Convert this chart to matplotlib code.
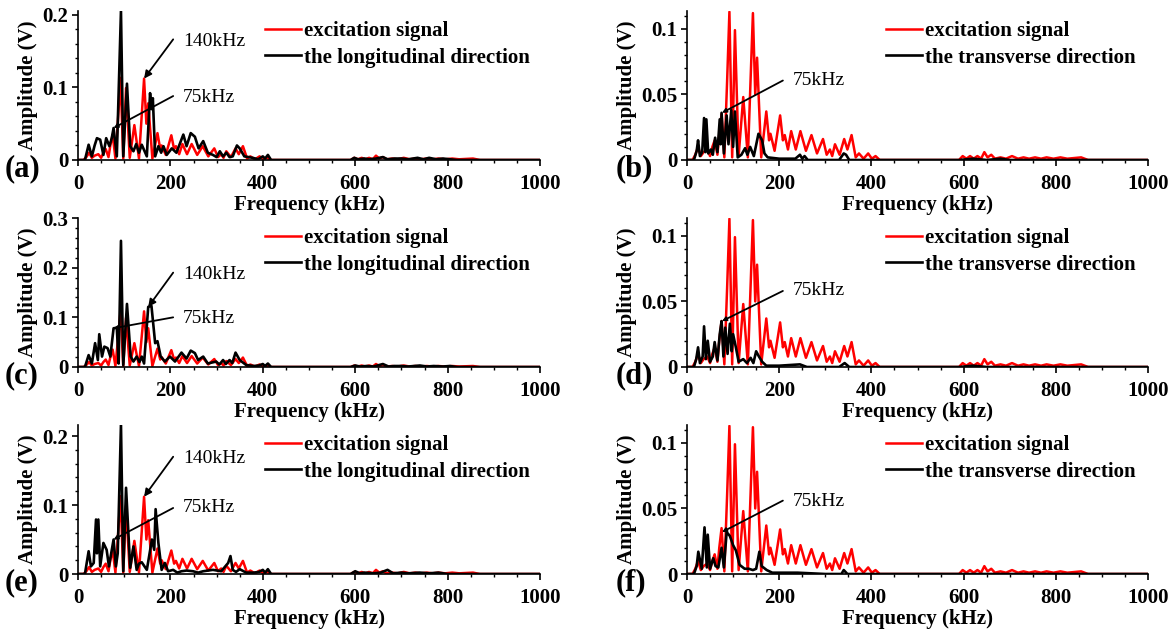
import matplotlib
matplotlib.use("Agg")
import matplotlib.pyplot as plt
from matplotlib.ticker import MultipleLocator, FuncFormatter

plt.rcParams['font.family'] = ['Liberation Serif', 'DejaVu Serif']
plt.rcParams['font.weight'] = 'bold'

# excitation signal spectrum (same in every panel), (kHz, V)
excitation = [(0, 0), (12, 0), (18, 0.004), (24, 0.010), (30, 0.003), (36, 0.006), (44, 0.008),
              (50, 0.003), (55, 0.010), (60, 0.015), (66, 0.004), (70, 0.020), (75, 0.035),
              (81, 0.002), (87, 0.06), (92, 0.113), (98, 0.002), (104, 0.099), (112, 0.003),
              (122, 0.048), (132, 0.002), (143, 0.112), (148, 0.05), (152, 0.078), (161, 0.002),
              (172, 0.037), (178, 0.015), (181, 0.020), (190, 0.007), (202, 0.034), (208, 0.015),
              (212, 0.019), (219, 0.008), (226, 0.022), (236, 0.008), (246, 0.022), (258, 0.007),
              (270, 0.019), (282, 0.005), (295, 0.016), (303, 0.004), (310, 0.008), (315, 0.003),
              (321, 0.012), (331, 0.004), (341, 0.016), (348, 0.008), (357, 0.019), (366, 0.002),
              (373, 0.005), (383, 0.001), (393, 0.005), (401, 0.001), (409, 0.003), (418, 0),
              (590, 0), (598, 0.003), (606, 0.001), (614, 0.003), (622, 0.001), (630, 0.003),
              (638, 0.001), (645, 0.006), (652, 0.002), (660, 0.004), (668, 0.001), (680, 0.002),
              (692, 0.001), (705, 0.003), (718, 0.001), (730, 0.002), (742, 0.001), (755, 0.002),
              (768, 0.001), (780, 0.002), (795, 0.001), (810, 0.002), (825, 0.001), (840, 0.0015),
              (855, 0.002), (870, 0), (1000, 0)]

# longitudinal direction responses
long_a = [(0, 0), (15, 0), (23, 0.021), (30, 0.005), (36, 0.02), (41, 0.030), (48, 0.028),
          (55, 0.007), (61, 0.030), (68, 0.019), (73, 0.03), (77, 0.044), (84, 0.005),
          (93, 0.205), (98, 0.005), (106, 0.105), (113, 0.019), (120, 0.012), (126, 0.022),
          (132, 0.010), (138, 0.021), (149, 0.005), (156, 0.092), (159, 0.07), (162, 0.085),
          (167, 0.005), (174, 0.019), (180, 0.010), (185, 0.019), (192, 0.007), (203, 0.016),
          (213, 0.010), (228, 0.035), (235, 0.019), (244, 0.037), (253, 0.032), (261, 0.016),
          (271, 0.026), (281, 0.010), (292, 0.007), (300, 0.004), (307, 0.012), (314, 0.005),
          (321, 0.010), (328, 0.004), (335, 0.005), (344, 0.020), (350, 0.016), (360, 0.005),
          (378, 0.003), (390, 0.001), (400, 0.005), (405, 0.002), (411, 0.007), (418, 0),
          (590, 0), (598, 0.003), (606, 0.001), (620, 0.002), (630, 0.001), (645, 0.002),
          (660, 0.004), (670, 0.001), (685, 0.002), (700, 0.002), (715, 0.001), (735, 0.003),
          (748, 0.001), (760, 0.003), (775, 0.001), (790, 0.002), (805, 0.001), (820, 0),
          (1000, 0)]

long_c = [(0, 0), (15, 0), (23, 0.024), (30, 0.007), (37, 0.048), (43, 0.014), (46, 0.066),
          (52, 0.021), (57, 0.041), (64, 0.038), (70, 0.021), (77, 0.078), (84, 0.079),
          (88, 0.007), (93, 0.254), (98, 0.004), (106, 0.127), (114, 0.021), (120, 0.011),
          (127, 0.021), (133, 0.010), (138, 0.021), (143, 0.007), (152, 0.121), (159, 0.123),
          (167, 0.048), (172, 0.052), (179, 0.021), (188, 0.011), (199, 0.021), (210, 0.011),
          (224, 0.029), (235, 0.017), (244, 0.033), (253, 0.028), (260, 0.014), (271, 0.021),
          (281, 0.007), (299, 0.011), (306, 0.005), (314, 0.014), (320, 0.006), (328, 0.014),
          (334, 0.008), (341, 0.029), (350, 0.014), (364, 0.004), (380, 0.002), (392, 0.003),
          (400, 0.006), (405, 0.002), (411, 0.007), (418, 0), (590, 0), (600, 0.003),
          (610, 0.001), (625, 0.002), (640, 0.001), (660, 0.006), (672, 0.001), (685, 0.002),
          (700, 0.002), (715, 0.001), (740, 0.003), (755, 0.001), (770, 0.002), (790, 0.001),
          (805, 0.002), (820, 0), (1000, 0)]

long_e = [(0, 0), (15, 0), (23, 0.033), (28, 0.011), (34, 0.016), (39, 0.079), (41, 0.03),
          (44, 0.079), (48, 0.011), (55, 0.045), (62, 0.035), (67, 0.011), (77, 0.050),
          (82, 0.011), (86, 0.03), (93, 0.217), (98, 0.004), (104, 0.125), (113, 0.009),
          (120, 0.040), (127, 0.006), (132, 0.015), (138, 0.017), (149, 0.006), (160, 0.050),
          (165, 0.035), (168, 0.094), (174, 0.045), (181, 0.006), (188, 0.016), (195, 0.004),
          (206, 0.006), (215, 0.002), (224, 0.004), (235, 0.005), (249, 0.004), (260, 0.002),
          (271, 0.004), (292, 0.006), (310, 0.004), (325, 0.016), (330, 0.026), (335, 0.006),
          (342, 0.003), (350, 0.007), (364, 0.002), (380, 0.002), (392, 0.003), (400, 0.006),
          (405, 0.002), (411, 0.007), (418, 0), (590, 0), (600, 0.004), (610, 0.001),
          (620, 0.002), (640, 0.001), (655, 0.002), (670, 0.006), (682, 0.001), (700, 0.002),
          (715, 0.001), (740, 0.002), (760, 0.001), (780, 0.002), (800, 0), (1000, 0)]

# transverse direction responses
trans_b = [(0, 0), (15, 0), (21, 0.007), (24, 0.015), (28, 0.003), (33, 0.006), (37, 0.032),
           (40, 0.006), (42, 0.031), (46, 0.005), (52, 0.008), (56, 0.004), (61, 0.017),
           (66, 0.006), (71, 0.031), (73, 0.012), (75, 0.036), (80, 0.005), (86, 0.034),
           (90, 0.012), (96, 0.038), (100, 0.01), (104, 0.037), (110, 0.002), (118, 0.004),
           (126, 0.009), (131, 0.004), (137, 0.010), (145, 0.003), (155, 0.020), (163, 0.015),
           (168, 0.005), (175, 0.002), (200, 0.001), (235, 0.001), (245, 0.004), (250, 0.001),
           (255, 0.003), (262, 0), (330, 0), (340, 0.005), (345, 0.004), (352, 0), (590, 0),
           (620, 0.001), (650, 0), (680, 0.001), (700, 0), (1000, 0)]

trans_d = [(0, 0), (15, 0), (20, 0.006), (24, 0.015), (28, 0.003), (34, 0.008), (37, 0.031),
           (41, 0.006), (45, 0.020), (50, 0.004), (56, 0.008), (60, 0.019), (66, 0.005),
           (71, 0.025), (75, 0.035), (79, 0.008), (83, 0.030), (88, 0.010), (93, 0.033),
           (97, 0.012), (100, 0.025), (106, 0.015), (112, 0.004), (122, 0.006), (130, 0.003),
           (138, 0.007), (144, 0.003), (150, 0.012), (156, 0.008), (163, 0.004), (172, 0.001),
           (200, 0.001), (245, 0.002), (260, 0), (330, 0), (342, 0.003), (352, 0), (590, 0),
           (620, 0.001), (650, 0), (1000, 0)]

trans_f = [(0, 0), (15, 0), (21, 0.006), (24.5, 0.017), (32, 0.004), (38, 0.0356), (43, 0.005),
           (45, 0.030), (50, 0.004), (57, 0.012), (62, 0.006), (68, 0.005), (75, 0.020),
           (80, 0.005), (86, 0.032), (93, 0.029), (100, 0.022), (106, 0.018), (114, 0.007),
           (125, 0.004), (134, 0.004), (143, 0.003), (150, 0.004), (157, 0.017), (162, 0.006),
           (173, 0.003), (185, 0.001), (240, 0.001), (300, 0), (335, 0), (340, 0.003),
           (348, 0), (1000, 0)]

freq_ticks = [0, 200, 400, 600, 800, 1000]

# panel layout: label, response, legend name, ylim, y major, y minor, annotations
# annotation = (text, text_xy, line_start, point)
panels = [
    ('(a)', long_a, 'the longitudinal direction', 0.205, 0.1, 0.02,
     [('140kHz', (227, 0.163), (206, 0.166), (143, 0.112)),
      ('75kHz', (227, 0.086), (206, 0.088), (77, 0.044))]),
    ('(b)', trans_b, 'the transverse direction', 0.1136, 0.05, 0.01,
     [('75kHz', (230, 0.0606), (208, 0.0606), (76, 0.036))]),
    ('(c)', long_c, 'the longitudinal direction', 0.3, 0.1, 0.02,
     [('140kHz', (227, 0.186), (206, 0.19), (152, 0.121)),
      ('75kHz', (227, 0.098), (206, 0.1), (77, 0.078))]),
    ('(d)', trans_d, 'the transverse direction', 0.1136, 0.05, 0.01,
     [('75kHz', (230, 0.058), (208, 0.058), (76, 0.035))]),
    ('(e)', long_e, 'the longitudinal direction', 0.216, 0.1, 0.02,
     [('140kHz', (227, 0.167), (206, 0.17), (143, 0.112)),
      ('75kHz', (227, 0.0957), (206, 0.0957), (77, 0.05))]),
    ('(f)', trans_f, 'the transverse direction', 0.1137, 0.05, 0.01,
     [('75kHz', (230, 0.055), (208, 0.056), (76, 0.032))]),
]

W, H = 1176, 639
fig = plt.figure(figsize=(W / 100, H / 100), dpi=100)

col_left = [78, 687]
col_width = [462, 461]
row_bottom = [160, 367, 574]
ax_h = 149

fmt = FuncFormatter(lambda v, p: '%g' % round(v, 4))

for i, (lab, resp, name, ytop, ymaj, ymin, notes) in enumerate(panels):
    r, c = i // 2, i % 2
    ax = fig.add_axes([col_left[c] / W, (H - row_bottom[r]) / H, col_width[c] / W, ax_h / H])

    fx, fy = zip(*excitation)
    ax.plot(fx, fy, color='red', lw=1.8, label='excitation signal', zorder=2,
            solid_joinstyle='round')
    bx, by = zip(*resp)
    ax.plot(bx, by, color='black', lw=1.9, label=name, zorder=3,
            solid_joinstyle='round')

    ax.set_xlim(0, 1000)
    ax.set_ylim(0, ytop)
    ax.set_xticks(freq_ticks)
    ax.xaxis.set_minor_locator(MultipleLocator(50))
    ax.yaxis.set_major_locator(MultipleLocator(ymaj))
    ax.yaxis.set_minor_locator(MultipleLocator(ymin))
    ax.yaxis.set_major_formatter(fmt)
    for s in ['top', 'right']:
        ax.spines[s].set_visible(False)
    for s in ['left', 'bottom']:
        ax.spines[s].set_linewidth(1.2)
    ax.tick_params(which='major', direction='out', length=4, width=1.2, labelsize=15)
    ax.tick_params(which='minor', direction='out', length=2.5, width=1.0)
    ax.tick_params(axis='x', pad=6)
    ax.tick_params(axis='y', pad=3)

    ax.set_xlabel('Frequency (kHz)', fontsize=15, fontweight='bold', labelpad=1)
    ax.set_ylabel('Amplitude (V)', fontsize=15, fontweight='bold', labelpad=3)

    lx = 0.405 if c == 0 else 0.432
    ax.legend(loc='upper left', bbox_to_anchor=(lx, 0.93), frameon=False,
              borderpad=0, borderaxespad=0, handlelength=1.7, handletextpad=0.15,
              labelspacing=0.3, prop={'family': 'Liberation Serif', 'weight': 'bold', 'size': 15})

    for txt, txy, start, pt in notes:
        ax.annotate('', xy=pt, xytext=start,
                    arrowprops=dict(arrowstyle='-|>', color='black', lw=1.3,
                                    mutation_scale=11 if txt == '140kHz' else 6,
                                    shrinkA=0, shrinkB=0))
        ax.text(txy[0], txy[1], txt, fontsize=14, fontweight='normal',
                ha='left', va='center')

    px = 5 if c == 0 else 616
    fig.text(px / W, (H - row_bottom[r] - 9) / H, lab, fontsize=22, fontweight='bold',
             ha='left', va='center')

fig.savefig('out.png', dpi=100)
